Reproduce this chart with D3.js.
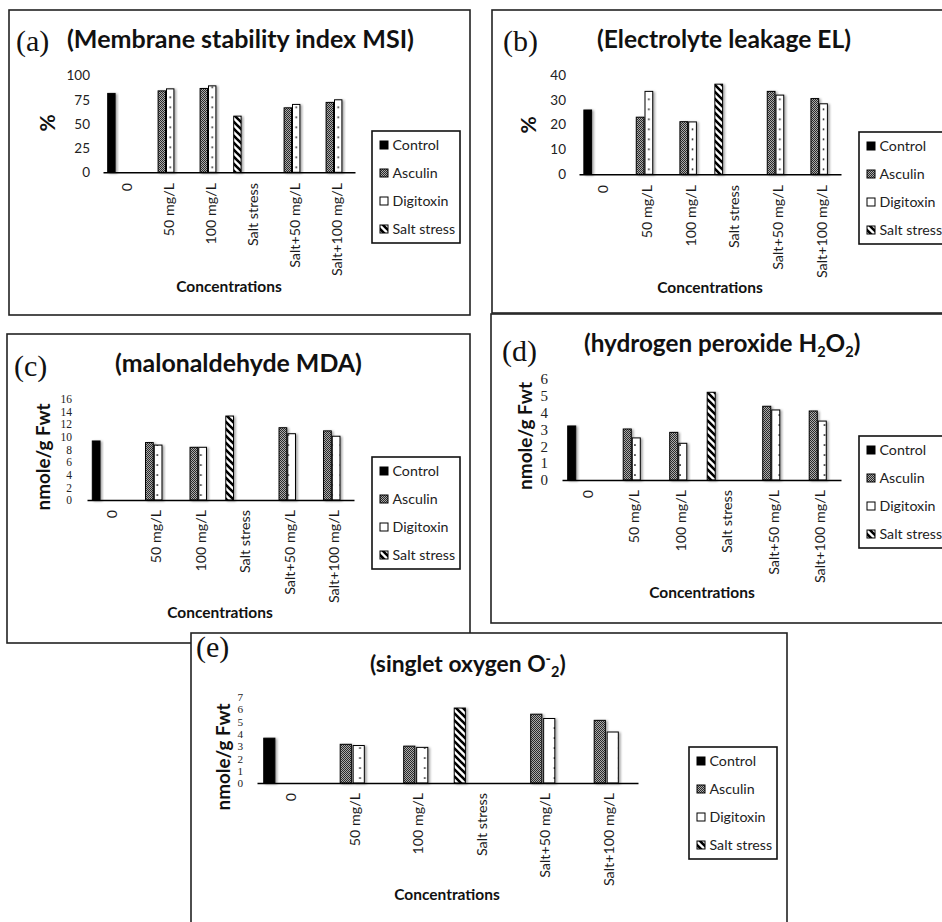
<!DOCTYPE html>
<html><head><meta charset="utf-8">
<script src="https://cdn.jsdelivr.net/npm/d3@7"></script>
<style>body{margin:0;background:#fff} svg{display:block}</style>
</head><body>
<svg id="chart" width="942" height="922"></svg>
<script>
// ---------- DATA ----------
const categories = ["0", "50 mg/L", "100 mg/L", "Salt stress", "Salt+50 mg/L", "Salt+100 mg/L"];
const seriesNames = ["Control", "Asculin", "Digitoxin", "Salt stress"];

// (a) Membrane stability index MSI (%)
const msiControl   = [81.5, null, null, null, null, null];
const msiAsculin   = [null, 84.1, 86.6, null, 66.6, 72.2];
const msiDigitoxin = [null, 86.2, 89.3, null, 70.1, 74.9];
const msiSalt      = [null, null, null, 58.0, null, null];
const msiTicks = [0, 25, 50, 75, 100];

// (b) Electrolyte leakage EL (%)
const elControl   = [25.9, null, null, null, null, null];
const elAsculin   = [null, 23.0, 21.2, null, 33.4, 30.5];
const elDigitoxin = [null, 33.4, 21.1, null, 31.9, 28.4];
const elSalt      = [null, null, null, 36.3, null, null];
const elTicks = [0, 10, 20, 30, 40];

// (c) malonaldehyde MDA (nmole/g Fwt)
const mdaControl   = [9.35, null, null, null, null, null];
const mdaAsculin   = [null, 9.1, 8.35, null, 11.45, 10.95];
const mdaDigitoxin = [null, 8.7, 8.35, null, 10.5, 10.1];
const mdaSalt      = [null, null, null, 13.3, null, null];
const mdaTicks = [0, 2, 4, 6, 8, 10, 12, 14, 16];

// (d) hydrogen peroxide H2O2 (nmole/g Fwt)
const hpControl   = [3.21, null, null, null, null, null];
const hpAsculin   = [null, 3.03, 2.83, null, 4.38, 4.10];
const hpDigitoxin = [null, 2.50, 2.18, null, 4.16, 3.50];
const hpSalt      = [null, null, null, 5.21, null, null];
const hpTicks = [0, 1, 2, 3, 4, 5, 6];

// (e) singlet oxygen O2- (nmole/g Fwt)
const soControl   = [3.65, null, null, null, null, null];
const soAsculin   = [null, 3.15, 3.0, null, 5.6, 5.1];
const soDigitoxin = [null, 3.05, 2.9, null, 5.25, 4.15];
const soSalt      = [null, null, null, 6.1, null, null];
const soTicks = [0, 1, 2, 3, 4, 5, 6, 7];

// ---------- LAYOUT ----------
const seriesSlot = [0, 1, 2, 0];
const panels = [
  { id: "a", tag: "(a)", title: [["(Membrane stability index MSI)", 0]], titleW: 347,
    yLabel: "%", ylW: 0, ylSize: 21, series: [msiControl, msiAsculin, msiDigitoxin, msiSalt], ticks: msiTicks,
    frame: [9, 10, 461, 305], tagPos: [16, 51], titlePos: [67, 48],
    plot: { x0: 103, x1: 355, y0: 172.3, y1: 75.5 }, serif: false, tickSize: 13.5, tickX: 90,
    yLabelPos: [48, 123], catTop: 183, xTitle: [229, 292], legend: [372, 131], gap: 1.0 },
  { id: "b", tag: "(b)", title: [["(Electrolyte leakage EL)", 0]], titleW: 254,
    yLabel: "%", ylW: 0, ylSize: 21, series: [elControl, elAsculin, elDigitoxin, elSalt], ticks: elTicks,
    frame: [492, 10, 470, 303], tagPos: [503, 51], titlePos: [597, 48],
    plot: { x0: 579, x1: 841, y0: 174.3, y1: 75 }, serif: false, tickSize: 13.5, tickX: 566,
    yLabelPos: [529, 125], catTop: 185, xTitle: [710, 293], legend: [859, 132], gap: 1.0 },
  { id: "c", tag: "(c)", title: [["(malonaldehyde MDA)", 0]], titleW: 247,
    yLabel: "nmole/g Fwt", ylW: 107, ylSize: 19, series: [mdaControl, mdaAsculin, mdaDigitoxin, mdaSalt], ticks: mdaTicks,
    frame: [7, 334, 463, 309], tagPos: [14, 376], titlePos: [115, 372],
    plot: { x0: 87, x1: 354, y0: 500, y1: 399 }, serif: true, tickSize: 11.5, tickX: 72,
    yLabelPos: [43.5, 457], catTop: 510, xTitle: [220, 618], legend: [372, 457], gap: 1.1 },
  { id: "d", tag: "(d)", title: [["(hydrogen peroxide H", 0], ["2", 1], ["O", 0], ["2", 1], [")", 0]], titleW: 279,
    yLabel: "nmole/g Fwt", ylW: 108, ylSize: 19, series: [hpControl, hpAsculin, hpDigitoxin, hpSalt], ticks: hpTicks,
    frame: [491, 314, 470, 309], tagPos: [502, 361], titlePos: [584, 352],
    plot: { x0: 562, x1: 841, y0: 480, y1: 379 }, serif: true, tickSize: 15, tickX: 548,
    yLabelPos: [525, 436], catTop: 490, xTitle: [702, 598], legend: [859, 436], gap: 1.15 },
  { id: "e", tag: "(e)", title: [["(singlet oxygen O", 0], ["-", -1], ["2", 1], [")", 0]], titleW: 197,
    yLabel: "nmole/g Fwt", ylW: 107, ylSize: 19, series: [soControl, soAsculin, soDigitoxin, soSalt], ticks: soTicks,
    frame: [191, 633, 596, 320], tagPos: [196, 657], titlePos: [370, 672],
    plot: { x0: 257, x1: 638, y0: 783, y1: 697 }, serif: true, tickSize: 11.2, tickX: 243,
    yLabelPos: [223, 757], catTop: 793, xTitle: [447, 900], legend: [689, 747], gap: 0.9, inset: 0.9 }
];

const SANS = "Lato, 'Open Sans', sans-serif";
const SERIF = "'Liberation Serif', 'Times New Roman', serif";

const svg = d3.select("#chart");
const defs = svg.append("defs");

// shadow
const f = defs.append("filter").attr("id", "shadow").attr("x", "-30%").attr("y", "-10%").attr("width", "180%").attr("height", "130%");
f.append("feDropShadow").attr("dx", 1.8).attr("dy", 0.8).attr("stdDeviation", 0.9)
  .attr("flood-color", "#000").attr("flood-opacity", 0.35);

// Asculin checker pattern
const pa = defs.append("pattern").attr("id", "asc").attr("patternUnits", "userSpaceOnUse")
  .attr("width", 2).attr("height", 2);
pa.append("rect").attr("width", 2).attr("height", 2).attr("fill", "#ababab");
pa.append("rect").attr("x", 0).attr("y", 0).attr("width", 1).attr("height", 1).attr("fill", "#2a2a2a");
pa.append("rect").attr("x", 1).attr("y", 1).attr("width", 1).attr("height", 1).attr("fill", "#2a2a2a");

// Salt stress stripes
const ps = defs.append("pattern").attr("id", "salt").attr("patternUnits", "userSpaceOnUse")
  .attr("width", 7).attr("height", 7);
ps.append("rect").attr("width", 7).attr("height", 7).attr("fill", "#fff");
ps.append("path").attr("d", "M-1,-1 L8,8 M-1,6 L1,8 M6,-1 L8,1")
  .attr("stroke", "#000").attr("stroke-width", 2.6);

function fitText(sel, target) {
  const node = sel.node();
  const len = node.getComputedTextLength();
  const fs = parseFloat(sel.attr("font-size"));
  if (len > 0 && target > 0) sel.attr("font-size", (fs * target / len).toFixed(2));
}

panels.forEach(p => {
  const g = svg.append("g").attr("id", "panel-" + p.id);
  const [fx, fy, fw, fh] = p.frame;
  g.append("rect").attr("x", fx).attr("y", fy).attr("width", fw).attr("height", fh)
    .attr("fill", "#fff").attr("stroke", "#222").attr("stroke-width", 1.6);

  g.append("text").attr("x", p.tagPos[0]).attr("y", p.tagPos[1])
    .attr("font-family", SERIF).attr("font-size", 30).attr("fill", "#111").text(p.tag);

  const t = g.append("text").attr("x", p.titlePos[0]).attr("y", p.titlePos[1])
    .attr("font-family", SANS).attr("font-weight", 700).attr("font-size", 21).attr("fill", "#111");
  let cur = 0;
  p.title.forEach(([txt, sh]) => {
    const ts = t.append("tspan").text(txt);
    const target = sh === 1 ? 5 : (sh === -1 ? -8 : 0);
    const dy = target - cur;
    if (dy !== 0) ts.attr("dy", dy);
    if (sh !== 0) ts.attr("font-size", 14.5);
    cur = target;
  });
  fitText(t, p.titleW);

  const x = d3.scaleBand().domain(categories).range([p.plot.x0, p.plot.x1]).paddingInner(0).paddingOuter(0);
  const sub = d3.scaleBand().domain([0, 1, 2, 3]).range([0, x.bandwidth()]).paddingInner(0).paddingOuter(p.gap / 2);
  const y = d3.scaleLinear().domain([0, d3.max(p.ticks)]).range([p.plot.y0, p.plot.y1]);

  // Digitoxin dots pattern aligned to slots
  const sw = sub.bandwidth();
  const pd = defs.append("pattern").attr("id", "dig-" + p.id).attr("patternUnits", "userSpaceOnUse")
    .attr("x", p.plot.x0 + sub(0)).attr("y", p.plot.y0).attr("width", sw).attr("height", 10);
  pd.append("rect").attr("width", sw).attr("height", 10).attr("fill", "#fff");
  pd.append("rect").attr("x", sw / 2 - 0.75).attr("y", 4.3).attr("width", 1.5).attr("height", 1.5).attr("fill", "#000");

  const fills = ["#000", "url(#asc)", "url(#dig-" + p.id + ")", "url(#salt)"];
  const inset = p.inset !== undefined ? p.inset : 0.5;

  const bars = [];
  p.series.forEach((vals, si) => {
    vals.forEach((v, ci) => {
      if (v !== null) bars.push({ si, cat: categories[ci], v });
    });
  });
  g.append("g").selectAll("rect").data(bars).join("rect")
    .attr("x", d => x(d.cat) + sub(seriesSlot[d.si]) + inset)
    .attr("width", sw - 2 * inset)
    .attr("y", d => y(d.v))
    .attr("height", d => y(0) - y(d.v))
    .attr("fill", d => fills[d.si])
    .attr("stroke", "#000").attr("stroke-width", 1)
    .attr("filter", "url(#shadow)");

  // y axis (labels only)
  const ya = g.append("g").attr("transform", `translate(${p.tickX},0)`)
    .call(d3.axisLeft(y).tickValues(p.ticks).tickSize(0).tickPadding(0).tickFormat(d3.format("d")));
  ya.select(".domain").remove();
  ya.selectAll("text").attr("font-family", p.serif ? SERIF : SANS).attr("font-size", p.tickSize).attr("fill", "#222");

  // x axis
  const xa = g.append("g").attr("transform", `translate(0,${p.plot.y0})`)
    .call(d3.axisBottom(x).tickSize(0).tickSizeOuter(0).tickPadding(0));
  xa.select(".domain").attr("stroke", "#000").attr("stroke-width", 1.6);
  xa.selectAll("text")
    .attr("font-family", SANS).attr("font-size", 14.3).attr("fill", "#1a1a1a")
    .attr("text-anchor", "end").attr("y", 0).attr("dy", "0.35em")
    .attr("transform", `translate(2.5,${p.catTop - p.plot.y0}) rotate(-90)`);

  // y label
  const yl = g.append("text").attr("transform", `translate(${p.yLabelPos[0]},${p.yLabelPos[1]}) rotate(-90)`)
    .attr("text-anchor", "middle").attr("dy", "0.35em")
    .attr("font-family", SANS).attr("font-weight", 700).attr("font-size", p.ylSize).attr("fill", "#111")
    .text(p.yLabel);
  fitText(yl, p.ylW);

  // x title
  g.append("text").attr("x", p.xTitle[0]).attr("y", p.xTitle[1]).attr("text-anchor", "middle")
    .attr("font-family", SANS).attr("font-weight", 700).attr("font-size", 15.5).attr("fill", "#111")
    .text("Concentrations");

  // legend
  const [lx, ly] = p.legend;
  const lg = g.append("g");
  lg.append("rect").attr("x", lx).attr("y", ly).attr("width", 88).attr("height", 112)
    .attr("fill", "#fff").attr("stroke", "#111").attr("stroke-width", 1.6);
  const items = lg.selectAll("g.item").data(seriesNames).join("g").attr("class", "item")
    .attr("transform", (d, i) => `translate(${lx + 8},${ly + 14 + i * 28})`);
  items.append("rect").attr("x", 0).attr("y", -4).attr("width", 8).attr("height", 8)
    .attr("fill", (d, i) => i === 2 ? "#fff" : fills[i]).attr("stroke", "#000").attr("stroke-width", 1);
  items.append("text").attr("x", 12.5).attr("y", 0).attr("dy", "0.35em")
    .attr("font-family", SANS).attr("font-size", 14.2).attr("fill", "#222").text(d => d);
});
</script>
</body></html>
